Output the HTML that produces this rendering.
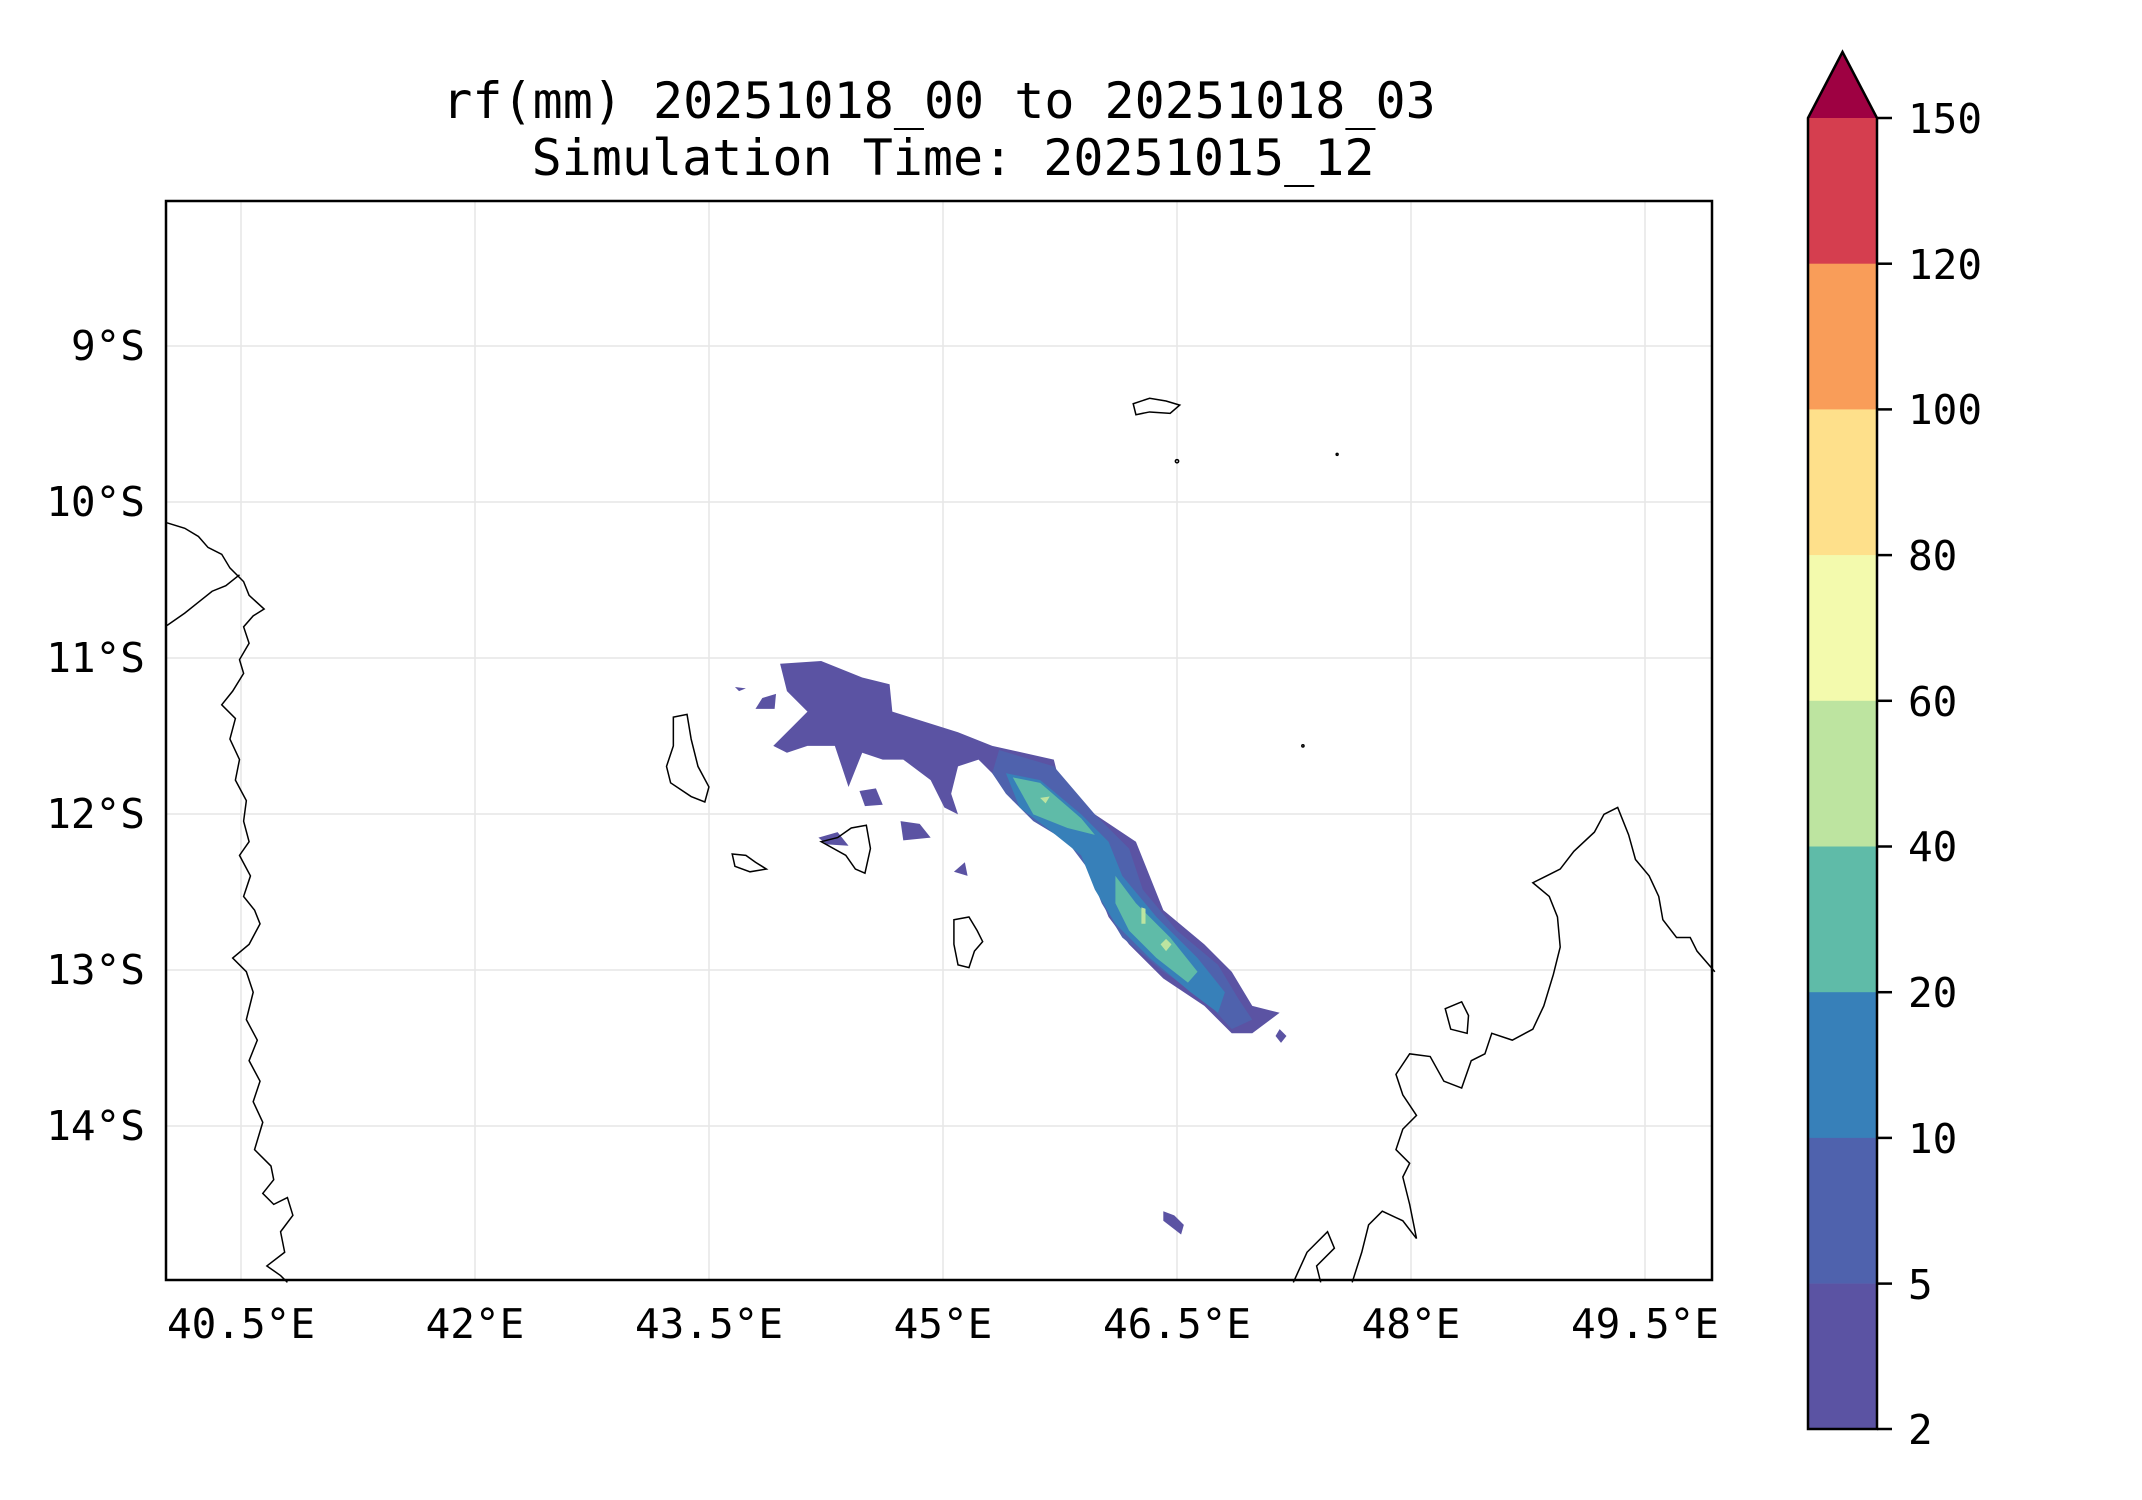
<!DOCTYPE html>
<html><head><meta charset="utf-8"><style>
html,body{margin:0;padding:0;background:#fff;}
svg{display:block;}
text{font-family:"DejaVu Sans Mono","Liberation Mono",monospace;fill:#000;}
</style></head><body>
<svg width="2142" height="1500" viewBox="0 0 2142 1500" xmlns="http://www.w3.org/2000/svg">
<text x="939" y="118" font-size="50" text-anchor="middle">rf(mm) 20251018_00 to 20251018_03</text>
<text x="953" y="175" font-size="50" text-anchor="middle">Simulation Time: 20251015_12</text>
<g stroke="#e6e6e6" stroke-width="1.5">
<line x1="241" y1="201" x2="241" y2="1280"/><line x1="475" y1="201" x2="475" y2="1280"/>
<line x1="709" y1="201" x2="709" y2="1280"/><line x1="943" y1="201" x2="943" y2="1280"/>
<line x1="1177" y1="201" x2="1177" y2="1280"/><line x1="1411" y1="201" x2="1411" y2="1280"/>
<line x1="1645" y1="201" x2="1645" y2="1280"/>
<line x1="166" y1="346" x2="1712" y2="346"/><line x1="166" y1="502" x2="1712" y2="502"/>
<line x1="166" y1="658" x2="1712" y2="658"/><line x1="166" y1="814" x2="1712" y2="814"/>
<line x1="166" y1="970" x2="1712" y2="970"/><line x1="166" y1="1126" x2="1712" y2="1126"/>
</g>
<g transform="scale(1.3686)">
<g fill="#5b53a3">
<polygon points="570,485 600,483 630,495 650,500 652,520 700,535 725,545 770,555 775,575 800,595 830,615 840,640 850,665 880,690 900,710 915,735 935,740 915,755 900,755 880,735 850,715 825,690 810,670 800,645 790,620 760,600 740,585 725,565 715,555 700,560 695,580 700,595 690,590 680,570 660,555 645,555 630,550 620,575 615,560 610,545 590,545 575,550 565,545 580,530 590,520 575,505"/>
<polygon points="598,612 612,608 620,618 604,617"/>
<polygon points="628,578 640,576 645,588 632,589"/>
<polygon points="658,600 672,602 680,612 660,614"/>
<polygon points="697,637 705,630 707,640"/>
<polygon points="850,885 858,888 865,895 863,902 850,892"/>
<polygon points="557,510 567,507 566,518 552,518"/>
<polygon points="935,752 940,757 936,762 932,757"/>
<polygon points="537,502 545,503 540,505"/>
</g>
<polygon fill="#4f62ad" points="730,548 770,560 800,595 825,620 835,650 860,680 890,705 905,730 915,745 900,752 880,730 850,710 820,685 805,660 795,635 780,615 755,600 735,580 725,565"/>
<polygon fill="#3780b9" points="735,565 760,570 790,595 810,615 820,640 845,670 875,700 895,725 890,740 870,725 840,700 815,675 800,650 790,625 765,605 745,590"/>
<g fill="#5fbba8">
<polygon points="740,568 760,572 790,598 800,610 780,605 755,595"/>
<polygon points="815,640 830,660 855,685 875,710 868,718 845,700 825,680 815,660"/>
</g>
<g fill="#bde4a0">
<polygon points="760,583 767,582 764,587"/>
<polygon points="834,663 837,664 837,675 834,675"/>
<polygon points="852,686 856,690 852,695 848,690"/>
</g>
<g fill="none" stroke="#000" stroke-width="1.1">
<polyline points="122,382 135,386 145,392 152,400 162,405 168,415 178,425 182,435 193,445 185,450 178,458 182,470 175,482 178,492 170,505 162,515 172,525 168,540 175,555 172,570 180,585 178,600 182,615 175,625 183,640 178,655 186,665 190,675 182,690 170,700 180,710 185,725 180,745 188,760 182,775 190,790 185,805 192,820 186,840 198,852 200,862 192,872 200,880 210,875 214,888 205,900 208,915 195,925 205,932 210,937"/>
<polyline points="122,457 135,448 145,440 155,432 165,428 175,420"/>
<polyline points="945,937 955,915 970,900 975,912 962,925 965,937"/>
<polyline points="988,937 995,915 1000,895 1010,885 1025,892 1035,905 1030,880 1025,860 1030,850 1020,840 1025,825 1035,815 1025,800 1020,785 1030,770 1045,772 1055,790 1068,795 1075,775 1085,770 1090,755 1105,760 1120,752 1128,735 1135,712 1140,692 1138,670 1132,655 1120,645 1130,640 1140,635 1150,622 1165,608 1172,595 1182,590 1190,610 1195,628 1205,640 1212,655 1215,672 1225,685 1235,685 1240,695 1253,710"/>
<polygon points="492,524 502,522 505,540 510,560 518,575 515,586 505,582 490,572 487,560 492,545"/>
<polygon points="535,624 545,625 552,630 560,635 548,637 537,633"/>
<polygon points="600,615 612,612 622,605 633,603 636,620 632,638 625,635 618,625"/>
<polygon points="697,672 708,670 714,680 718,688 712,695 708,707 700,705 697,690"/>
<polygon points="828,295 840,291 852,293 862,296 855,302 840,301 830,303"/>
<polygon points="1056,737 1068,732 1073,742 1072,755 1060,752"/>
<circle cx="860" cy="337" r="1.2"/><circle cx="977" cy="332" r="0.7"/><circle cx="952" cy="545" r="0.8"/>
</g>
</g>
<rect x="166" y="201" width="1546" height="1079" fill="none" stroke="#000" stroke-width="2.5"/>
<g font-size="41">
<g text-anchor="middle">
<text x="241" y="1338">40.5°E</text><text x="475" y="1338">42°E</text><text x="709" y="1338">43.5°E</text>
<text x="943" y="1338">45°E</text><text x="1177" y="1338">46.5°E</text><text x="1411" y="1338">48°E</text>
<text x="1645" y="1338">49.5°E</text>
</g>
<g text-anchor="end">
<text x="145" y="360">9°S</text><text x="145" y="516">10°S</text><text x="145" y="672">11°S</text>
<text x="145" y="828">12°S</text><text x="145" y="984">13°S</text><text x="145" y="1140">14°S</text>
</g>
</g>
<g>
<rect x="1808" y="118" width="69" height="146" fill="#d53e4f"/>
<rect x="1808" y="263.7" width="69" height="146" fill="#f99d59"/>
<rect x="1808" y="409.4" width="69" height="146" fill="#fee08b"/>
<rect x="1808" y="555.1" width="69" height="146" fill="#f3faad"/>
<rect x="1808" y="700.8" width="69" height="146" fill="#bde4a0"/>
<rect x="1808" y="846.5" width="69" height="146" fill="#5fbba8"/>
<rect x="1808" y="992.2" width="69" height="146" fill="#3780b9"/>
<rect x="1808" y="1137.9" width="69" height="146" fill="#4f62ad"/>
<rect x="1808" y="1283.6" width="69" height="145.4" fill="#5b53a3"/>
<polygon points="1808,118 1842.5,52 1877,118" fill="#9e0142"/>
<polygon points="1808,118 1842.5,52 1877,118 1877,1429 1808,1429" fill="none" stroke="#000" stroke-width="2.5"/>
<g stroke="#000" stroke-width="2.5">
<line x1="1877" y1="118" x2="1892" y2="118"/><line x1="1877" y1="263.7" x2="1892" y2="263.7"/>
<line x1="1877" y1="409.4" x2="1892" y2="409.4"/><line x1="1877" y1="555.1" x2="1892" y2="555.1"/>
<line x1="1877" y1="700.8" x2="1892" y2="700.8"/><line x1="1877" y1="846.5" x2="1892" y2="846.5"/>
<line x1="1877" y1="992.2" x2="1892" y2="992.2"/><line x1="1877" y1="1137.9" x2="1892" y2="1137.9"/>
<line x1="1877" y1="1283.6" x2="1892" y2="1283.6"/><line x1="1877" y1="1429" x2="1892" y2="1429"/>
</g>
<g font-size="41">
<text x="1908" y="133">150</text><text x="1908" y="279">120</text><text x="1908" y="424">100</text>
<text x="1908" y="570">80</text><text x="1908" y="716">60</text><text x="1908" y="861">40</text>
<text x="1908" y="1007">20</text><text x="1908" y="1153">10</text><text x="1908" y="1299">5</text>
<text x="1908" y="1444">2</text>
</g>
</g>
</svg>
</body></html>
